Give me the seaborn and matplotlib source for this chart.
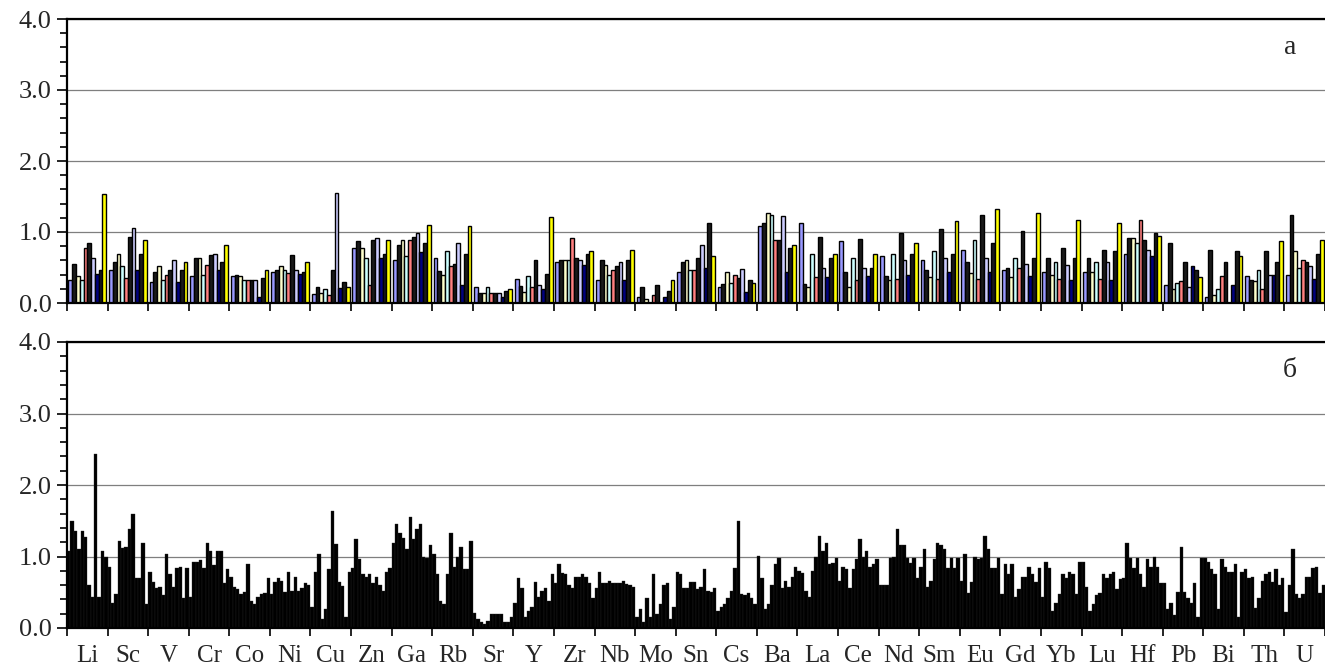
import matplotlib
matplotlib.use('Agg')
import matplotlib.pyplot as plt
import seaborn as sns
import pandas as pd
import numpy as np
from matplotlib.ticker import MultipleLocator

# ---------------- data ----------------
elements = ['Li', 'Sc', 'V', 'Cr', 'Co', 'Ni', 'Cu', 'Zn', 'Ga', 'Rb', 'Sr', 'Y', 'Zr', 'Nb',
            'Mo', 'Sn', 'Cs', 'Ba', 'La', 'Ce', 'Nd', 'Sm', 'Eu', 'Gd', 'Yb', 'Lu', 'Hf', 'Pb',
            'Bi', 'Th', 'U']
yticklabels = ['0.0', '1.0', '2.0', '3.0', '4.0']

# panel "а": 10 samples per element
a_Li = [0.32, 0.55, 0.38, 0.32, 0.78, 0.84, 0.63, 0.41, 0.47, 1.53]
a_Sc = [0.47, 0.58, 0.69, 0.52, 0.35, 0.93, 1.06, 0.47, 0.69, 0.89]
a_V = [0.30, 0.44, 0.52, 0.32, 0.40, 0.47, 0.61, 0.30, 0.47, 0.58]
a_Cr = [0.38, 0.64, 0.64, 0.40, 0.54, 0.67, 0.69, 0.47, 0.58, 0.81]
a_Co = [0.38, 0.40, 0.38, 0.32, 0.32, 0.32, 0.32, 0.09, 0.35, 0.47]
a_Ni = [0.44, 0.47, 0.52, 0.47, 0.42, 0.67, 0.47, 0.41, 0.44, 0.58]
a_Cu = [0.12, 0.23, 0.14, 0.20, 0.11, 0.47, 1.55, 0.21, 0.30, 0.23]
a_Zn = [0.78, 0.87, 0.78, 0.64, 0.25, 0.89, 0.92, 0.64, 0.69, 0.89]
a_Ga = [0.61, 0.81, 0.89, 0.66, 0.89, 0.93, 0.98, 0.72, 0.85, 1.10]
a_Rb = [0.64, 0.45, 0.40, 0.73, 0.52, 0.55, 0.84, 0.26, 0.69, 1.09]
a_Sr = [0.23, 0.14, 0.14, 0.23, 0.14, 0.14, 0.14, 0.09, 0.17, 0.20]
a_Y = [0.34, 0.24, 0.15, 0.38, 0.23, 0.61, 0.25, 0.20, 0.41, 1.21]
a_Zr = [0.58, 0.60, 0.61, 0.61, 0.92, 0.64, 0.60, 0.54, 0.69, 0.73]
a_Nb = [0.32, 0.61, 0.54, 0.40, 0.47, 0.52, 0.58, 0.32, 0.61, 0.75]
a_Mo = [0.09, 0.23, 0.06, 0.00, 0.11, 0.26, 0.00, 0.09, 0.17, 0.32]
a_Sn = [0.44, 0.58, 0.60, 0.46, 0.46, 0.64, 0.81, 0.49, 1.13, 0.66]
a_Cs = [0.23, 0.27, 0.44, 0.28, 0.40, 0.35, 0.48, 0.15, 0.32, 0.28]
a_Ba = [1.09, 1.12, 1.27, 1.24, 0.89, 0.89, 1.23, 0.44, 0.78, 0.81]
a_La = [1.13, 0.27, 0.23, 0.69, 0.36, 0.93, 0.50, 0.36, 0.64, 0.69]
a_Ce = [0.87, 0.44, 0.23, 0.63, 0.32, 0.90, 0.50, 0.38, 0.50, 0.69]
a_Nd = [0.66, 0.38, 0.32, 0.69, 0.34, 0.99, 0.61, 0.40, 0.69, 0.84]
a_Sm = [0.61, 0.47, 0.37, 0.73, 0.34, 1.04, 0.64, 0.44, 0.69, 1.15]
a_Eu = [0.75, 0.58, 0.42, 0.89, 0.34, 1.24, 0.64, 0.44, 0.85, 1.33]
a_Gd = [0.47, 0.50, 0.37, 0.64, 0.50, 1.01, 0.55, 0.38, 0.64, 1.27]
a_Yb = [0.44, 0.64, 0.40, 0.58, 0.34, 0.78, 0.54, 0.32, 0.64, 1.17]
a_Lu = [0.44, 0.64, 0.44, 0.58, 0.34, 0.75, 0.58, 0.32, 0.73, 1.13]
a_Hf = [0.69, 0.92, 0.91, 0.84, 1.17, 0.89, 0.75, 0.66, 0.99, 0.95]
a_Pb = [0.26, 0.84, 0.20, 0.28, 0.31, 0.58, 0.23, 0.52, 0.47, 0.37]
a_Bi = [0.08, 0.75, 0.11, 0.20, 0.38, 0.58, 0.00, 0.26, 0.73, 0.66]
a_Th = [0.38, 0.32, 0.31, 0.47, 0.20, 0.73, 0.40, 0.40, 0.58, 0.87]
a_U = [0.40, 1.24, 0.73, 0.50, 0.61, 0.58, 0.52, 0.34, 0.69, 0.89]

# panel "б": 12 samples per element
b_Li = [1.07, 1.50, 1.35, 1.10, 1.35, 1.27, 0.60, 0.44, 2.43, 0.44, 1.07, 1.00]
b_Sc = [0.86, 0.35, 0.47, 1.22, 1.12, 1.13, 1.38, 1.60, 0.70, 0.70, 1.19, 0.33]
b_V = [0.78, 0.65, 0.56, 0.58, 0.46, 1.03, 0.75, 0.58, 0.84, 0.86, 0.42, 0.84]
b_Cr = [0.44, 0.92, 0.93, 0.95, 0.84, 1.19, 1.07, 0.88, 1.07, 1.07, 0.63, 0.82]
b_Co = [0.72, 0.58, 0.54, 0.47, 0.51, 0.90, 0.38, 0.33, 0.44, 0.47, 0.49, 0.70]
b_Ni = [0.47, 0.65, 0.70, 0.66, 0.51, 0.78, 0.52, 0.72, 0.52, 0.56, 0.63, 0.60]
b_Cu = [0.30, 0.78, 1.03, 0.13, 0.26, 0.82, 1.64, 1.18, 0.65, 0.59, 0.16, 0.78]
b_Zn = [0.84, 1.24, 0.96, 0.75, 0.72, 0.75, 0.63, 0.72, 0.60, 0.52, 0.78, 0.84]
b_Ga = [1.19, 1.45, 1.33, 1.26, 1.10, 1.55, 1.24, 1.39, 1.45, 1.00, 0.98, 1.16]
b_Rb = [1.03, 0.75, 0.38, 0.33, 0.75, 1.33, 0.86, 0.99, 1.13, 0.82, 0.82, 1.22]
b_Sr = [0.21, 0.13, 0.09, 0.06, 0.10, 0.19, 0.19, 0.19, 0.19, 0.09, 0.09, 0.15]
b_Y = [0.35, 0.70, 0.56, 0.15, 0.24, 0.29, 0.64, 0.44, 0.52, 0.56, 0.38, 0.75]
b_Zr = [0.63, 0.90, 0.77, 0.75, 0.60, 0.56, 0.72, 0.71, 0.75, 0.71, 0.63, 0.42]
b_Nb = [0.56, 0.78, 0.63, 0.63, 0.66, 0.63, 0.63, 0.63, 0.66, 0.62, 0.60, 0.58]
b_Mo = [0.16, 0.26, 0.09, 0.42, 0.16, 0.75, 0.19, 0.33, 0.60, 0.63, 0.12, 0.29]
b_Sn = [0.78, 0.75, 0.56, 0.56, 0.64, 0.64, 0.54, 0.58, 0.82, 0.52, 0.50, 0.56]
b_Cs = [0.24, 0.30, 0.33, 0.42, 0.52, 0.84, 1.50, 0.47, 0.46, 0.49, 0.42, 0.33]
b_Ba = [1.01, 0.70, 0.27, 0.33, 0.60, 0.90, 0.98, 0.56, 0.66, 0.58, 0.72, 0.86]
b_La = [0.80, 0.77, 0.52, 0.44, 0.80, 1.00, 1.29, 1.07, 1.19, 0.90, 0.91, 0.98]
b_Ce = [0.66, 0.86, 0.82, 0.56, 0.82, 0.96, 1.24, 0.99, 1.07, 0.86, 0.90, 0.96]
b_Nd = [0.60, 0.60, 0.60, 0.98, 1.00, 1.38, 1.16, 1.16, 0.98, 0.91, 0.98, 0.70]
b_Sm = [0.86, 1.10, 0.58, 0.66, 0.96, 1.19, 1.16, 1.10, 0.84, 0.98, 0.84, 0.98]
b_Eu = [0.66, 1.03, 0.49, 0.64, 0.99, 0.96, 0.98, 1.29, 1.10, 0.84, 0.84, 0.98]
b_Gd = [0.47, 0.90, 0.75, 0.90, 0.44, 0.55, 0.72, 0.72, 0.86, 0.75, 0.64, 0.84]
b_Yb = [0.44, 0.92, 0.84, 0.24, 0.35, 0.47, 0.75, 0.70, 0.78, 0.75, 0.47, 0.92]
b_Lu = [0.92, 0.58, 0.24, 0.33, 0.46, 0.49, 0.75, 0.70, 0.75, 0.78, 0.54, 0.69]
b_Hf = [0.70, 1.19, 0.98, 0.84, 0.98, 0.75, 0.58, 0.96, 0.86, 1.00, 0.86, 0.63]
b_Pb = [0.63, 0.27, 0.35, 0.18, 0.51, 1.13, 0.51, 0.42, 0.35, 0.63, 0.16, 0.98]
b_Bi = [0.98, 0.93, 0.82, 0.75, 0.26, 0.96, 0.86, 0.79, 0.79, 0.89, 0.16, 0.79]
b_Th = [0.82, 0.70, 0.72, 0.28, 0.42, 0.66, 0.75, 0.78, 0.65, 0.82, 0.60, 0.70]
b_U = [0.23, 0.60, 1.10, 0.47, 0.42, 0.47, 0.72, 0.72, 0.84, 0.86, 0.49, 0.60]

top_values = [a_Li, a_Sc, a_V, a_Cr, a_Co, a_Ni, a_Cu, a_Zn, a_Ga, a_Rb, a_Sr, a_Y, a_Zr, a_Nb,
              a_Mo, a_Sn, a_Cs, a_Ba, a_La, a_Ce, a_Nd, a_Sm, a_Eu, a_Gd, a_Yb, a_Lu, a_Hf,
              a_Pb, a_Bi, a_Th, a_U]
bottom_values = [b_Li, b_Sc, b_V, b_Cr, b_Co, b_Ni, b_Cu, b_Zn, b_Ga, b_Rb, b_Sr, b_Y, b_Zr,
                 b_Nb, b_Mo, b_Sn, b_Cs, b_Ba, b_La, b_Ce, b_Nd, b_Sm, b_Eu, b_Gd, b_Yb, b_Lu,
                 b_Hf, b_Pb, b_Bi, b_Th, b_U]

colors_top = ['#9999FF', '#1A1A1A', '#FFFFCC', '#CCFFFF', '#FF8080', '#1A1A1A',
              '#CCCCFF', '#000080', '#1A1A1A', '#FFFF00']
n_top = len(colors_top)
n_bot = len(b_Li)

# ---------------- frames ----------------
df_top = pd.DataFrame(
    [(el, f"s{j}", v) for el, vals in zip(elements, top_values) for j, v in enumerate(vals)],
    columns=['element', 'series', 'value'])
df_bot = pd.DataFrame(
    [(el, f"s{j}", v) for el, vals in zip(elements, bottom_values) for j, v in enumerate(vals)],
    columns=['element', 'series', 'value'])

# ---------------- style ----------------
sns.set_style('white')
plt.rcParams['font.family'] = ['Liberation Serif', 'DejaVu Serif']

W, H = 1325, 671
fig = plt.figure(figsize=(W / 100, H / 100), dpi=100)
ax1 = fig.add_axes([67 / W, 1 - 303 / H, 1 - 67 / W, 284 / H])
ax2 = fig.add_axes([67 / W, 1 - 628 / H, 1 - 67 / W, 286 / H])

sns.barplot(data=df_top, x='element', y='value', hue='series', order=elements,
            hue_order=[f"s{j}" for j in range(n_top)], palette=colors_top, saturation=1,
            width=0.93, gap=0, errorbar=None, edgecolor='black', linewidth=1.0,
            legend=False, ax=ax1)
sns.barplot(data=df_bot, x='element', y='value', hue='series', order=elements,
            hue_order=[f"s{j}" for j in range(n_bot)], palette=['#000000'] * n_bot,
            saturation=1, width=1.0, gap=0, errorbar=None, edgecolor='#262626',
            linewidth=0.25, legend=False, ax=ax2)


def style(ax, show_labels):
    ax.set_xlim(-0.5, len(elements) - 0.5)
    ax.set_ylim(0, 4)
    ax.set_yticks([0, 1, 2, 3, 4])
    ax.set_yticklabels(yticklabels)
    ax.yaxis.set_minor_locator(MultipleLocator(0.2))
    ax.set_xticks(range(len(elements)))
    ax.set_xticks(np.arange(-0.5, len(elements), 1.0), minor=True)
    if show_labels:
        ax.set_xticklabels(elements)
    else:
        ax.set_xticklabels([])
    ax.tick_params(axis='x', which='major', length=0, pad=12, labelsize=18)
    ax.tick_params(axis='x', which='minor', length=6, width=1.2, color='black',
                   direction='out', bottom=True)
    ax.tick_params(axis='y', which='major', length=7, width=1.2, color='black',
                   direction='out', left=True, labelsize=19, pad=4)
    ax.tick_params(axis='y', which='minor', length=5, width=1.2, color='black',
                   direction='out', left=True)
    ax.grid(False)
    ax.grid(axis='y', which='major', color='#7f7f7f', linewidth=0.9)
    ax.set_axisbelow(True)
    for s in ['left', 'bottom', 'top']:
        ax.spines[s].set_visible(True)
        ax.spines[s].set_color('black')
        ax.spines[s].set_linewidth(1.6)
    ax.spines['right'].set_visible(False)
    ax.set_xlabel('')
    ax.set_ylabel('')


style(ax1, False)
style(ax2, True)

ax1.text(0.972, 0.9, 'а', transform=ax1.transAxes, fontsize=20, ha='center', va='center')
ax2.text(0.972, 0.9, 'б', transform=ax2.transAxes, fontsize=20, ha='center', va='center')

fig.savefig('out.png', dpi=100)
